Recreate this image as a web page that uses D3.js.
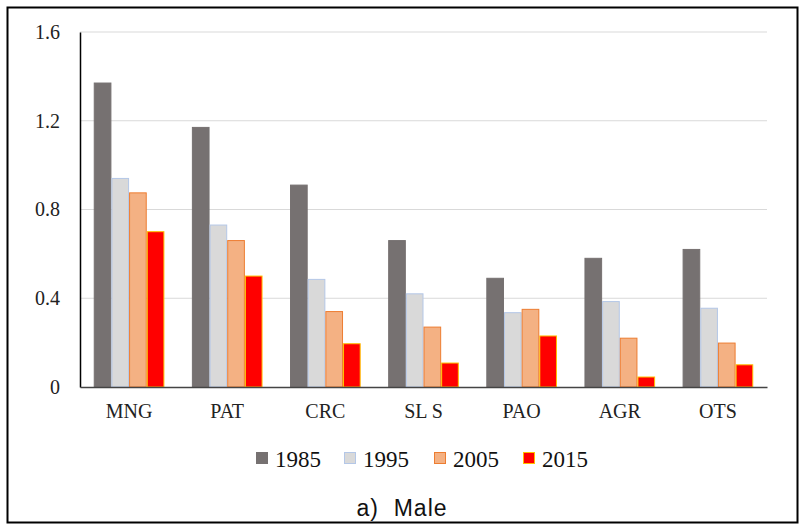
<!DOCTYPE html>
<html>
<head>
<meta charset="utf-8">
<script src="https://cdn.jsdelivr.net/npm/d3@7"></script>
<style>
  body { margin: 0; background: #fff; }
  .serif { font-family: "Liberation Serif", "Times New Roman", serif; }
</style>
</head>
<body>
<div id="chart"></div>
<script>
// Data
const categories = ["MNG", "PAT", "CRC", "SL S", "PAO", "AGR", "OTS"];
const years = ["1985", "1995", "2005", "2015"];
const v1985 = [1.37, 1.17, 0.91, 0.66, 0.49, 0.58, 0.62];
const v1995 = [0.94, 0.73, 0.485, 0.42, 0.335, 0.385, 0.355];
const v2005 = [0.875, 0.66, 0.34, 0.27, 0.35, 0.22, 0.198];
const v2015 = [0.70, 0.50, 0.195, 0.108, 0.23, 0.045, 0.10];
const yTicks = [0, 0.4, 0.8, 1.2, 1.6];

const series = [v1985, v1995, v2005, v2015];
const fills = ["#767171", "#d9d9d9", "#f4b183", "#ff0000"];
const strokes = ["#767171", "#b4c7e7", "#ed7d31", "#ffc000"];

const W = 800, H = 528;
const margin = {left: 80, right: 33, top: 32, bottom: 141};

const svg = d3.select("#chart").append("svg")
    .attr("width", W)
    .attr("height", H);

// outer frame
svg.append("rect")
    .attr("x", 7.5).attr("y", 7.5)
    .attr("width", 790).attr("height", 515)
    .attr("fill", "none")
    .attr("stroke", "#000")
    .attr("stroke-width", 2);

const x0 = d3.scaleBand()
    .domain(categories)
    .range([margin.left, W - margin.right])
    .paddingInner(0.28)
    .paddingOuter(0.14);

const x1 = d3.scaleBand()
    .domain(years)
    .range([0, x0.bandwidth()]);

const y = d3.scaleLinear()
    .domain([0, 1.6])
    .range([H - margin.bottom, margin.top]);

// gridlines
svg.append("g")
    .selectAll("line")
    .data(yTicks.filter(d => d > 0))
    .join("line")
        .attr("x1", margin.left)
        .attr("x2", W - margin.right)
        .attr("y1", d => y(d))
        .attr("y2", d => y(d))
        .attr("stroke", "#d9d9d9")
        .attr("stroke-width", 1.2);

// bars
const groups = svg.append("g")
    .selectAll("g")
    .data(categories)
    .join("g")
        .attr("transform", d => `translate(${x0(d)},0)`);

groups.selectAll("rect")
    .data((c, i) => years.map((yr, k) => ({yr: yr, k: k, v: series[k][i]})))
    .join("rect")
        .attr("x", d => x1(d.yr) + 0.5)
        .attr("y", d => y(d.v))
        .attr("width", x1.bandwidth() - 1)
        .attr("height", d => y(0) - y(d.v))
        .attr("fill", d => fills[d.k])
        .attr("stroke", d => strokes[d.k])
        .attr("stroke-width", 1);

// y axis
const yAxis = svg.append("g")
    .attr("transform", `translate(${margin.left},0)`)
    .call(d3.axisLeft(y).tickValues(yTicks).tickSize(0).tickPadding(20)
        .tickFormat(d => d === 0 ? "0" : d3.format(".1f")(d)));
yAxis.attr("font-family", null).attr("font-size", null);
yAxis.select(".domain").attr("stroke", "#000").attr("stroke-width", 1.5);
yAxis.selectAll("text")
    .attr("class", "serif")
    .style("font-size", "20px")
    .attr("fill", "#222");

// x axis
const xAxis = svg.append("g")
    .attr("transform", `translate(0,${y(0)})`)
    .call(d3.axisBottom(x0).tickSize(0).tickPadding(17));
xAxis.attr("font-family", null).attr("font-size", null);
xAxis.select(".domain").attr("stroke", "#444").attr("stroke-width", 1.5);
xAxis.selectAll("text")
    .attr("class", "serif")
    .style("font-size", "20px")
    .attr("fill", "#222");

// legend
const legendX = [256, 344, 434, 523];
const legend = svg.append("g")
    .selectAll("g")
    .data(years)
    .join("g")
        .attr("transform", (d, i) => `translate(${legendX[i]},452)`);

legend.append("rect")
    .attr("width", 11).attr("height", 11)
    .attr("x", 0.5).attr("y", 0.5)
    .attr("fill", (d, i) => fills[i])
    .attr("stroke", (d, i) => strokes[i]);

legend.append("text")
    .attr("class", "serif")
    .attr("x", 19)
    .attr("y", 15)
    .style("font-size", "23px")
    .attr("fill", "#111")
    .text(d => d);

// caption
svg.append("text")
    .attr("x", 402)
    .attr("y", 516)
    .attr("text-anchor", "middle")
    .style("font-family", "'Liberation Sans', Arial, sans-serif")
    .style("font-size", "23px")
    .style("letter-spacing", "1px")
    .style("white-space", "pre")
    .attr("fill", "#111")
    .text("a)  Male");
</script>
</body>
</html>
